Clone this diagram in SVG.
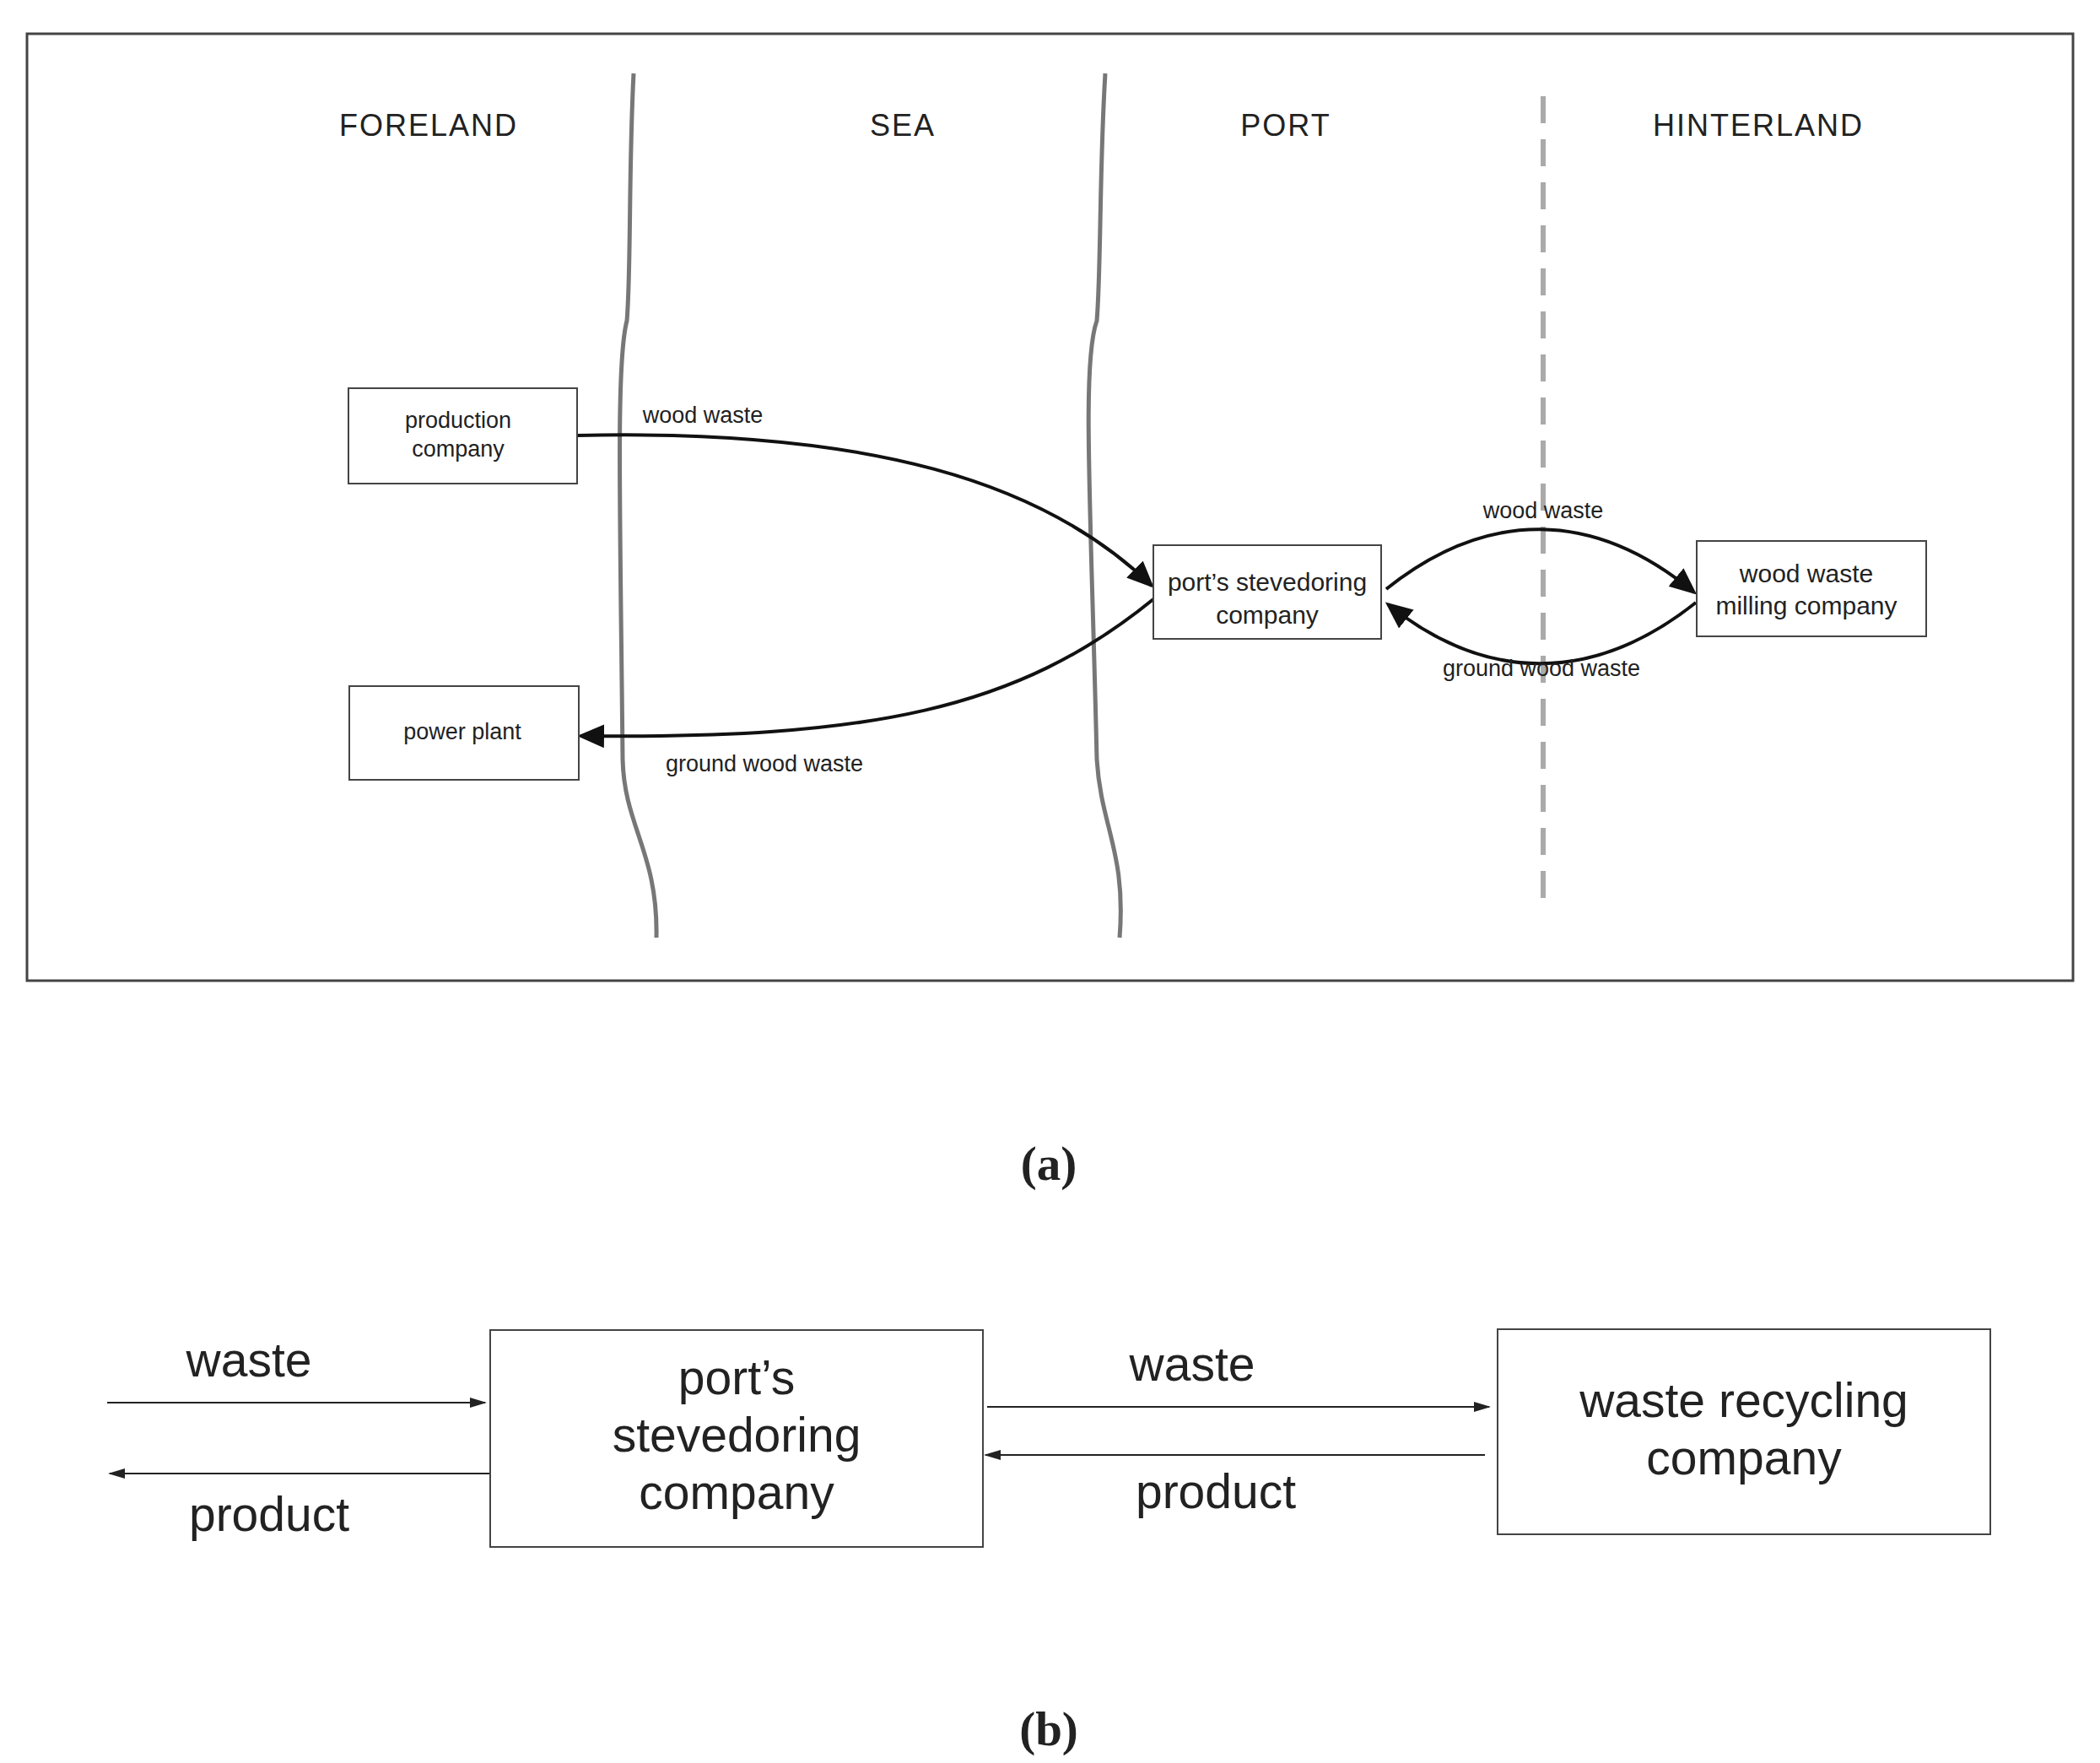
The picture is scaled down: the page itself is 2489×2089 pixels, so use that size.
<svg xmlns="http://www.w3.org/2000/svg" width="2489" height="2089" viewBox="0 0 2489 2089">
<style>
text{font-family:"Liberation Sans",Arial,sans-serif;fill:#222;text-anchor:middle;dominant-baseline:central}
.h{font-size:36px;letter-spacing:2px}
.s{font-size:27px}
.b{font-size:57px}
.cap{font-family:"Liberation Serif",serif;font-weight:bold;font-size:57px}
.box{fill:#fff;stroke:#444;stroke-width:2}
.c{fill:none;stroke:#111;stroke-width:4}
.t{fill:none;stroke:#222;stroke-width:2}
</style>
<defs>
<marker id="a" markerWidth="8" markerHeight="8" refX="7" refY="4" orient="auto" markerUnits="strokeWidth"><path d="M0,0.5L8,4L0,7.5z" fill="#111"/></marker>
<marker id="s" markerWidth="10" markerHeight="8" refX="9" refY="4" orient="auto" markerUnits="strokeWidth"><path d="M0,1L10,4L0,7z" fill="#222"/></marker>
</defs>
<rect width="2489" height="2089" fill="#fff"/>
<rect x="32" y="40" width="2425" height="1122" fill="none" stroke="#444" stroke-width="3"/>
<text class="h" x="508" y="148">FORELAND</text>
<text class="h" x="1070" y="148">SEA</text>
<text class="h" x="1524" y="148">PORT</text>
<text class="h" x="2084" y="148">HINTERLAND</text>
<path d="M751,87 C745,200 748,320 743,380 C730,430 735,600 738,900 C740,980 780,1010 778,1111" fill="none" stroke="#777" stroke-width="5"/>
<path d="M1310,87 C1303,200 1305,320 1300,380 C1282,430 1293,600 1300,900 C1305,980 1335,1010 1327,1111" fill="none" stroke="#777" stroke-width="5"/>
<line x1="1829" y1="114" x2="1829" y2="1080" stroke="#aaa" stroke-width="6" stroke-dasharray="32,19"/>
<g id="connectors">
<path class="c" d="M684,516 C1032,508 1238,571 1365,694" marker-end="url(#a)"/>
<path class="c" d="M1367,710 C1206,841 1032,876 688,872" marker-end="url(#a)"/>
<path class="c" d="M1643,698 C1762,603 1889,603 2008,702" marker-end="url(#a)"/>
<path class="c" d="M2010,714 C1889,810 1762,810 1645,716" marker-end="url(#a)"/>
<text class="s" x="833" y="492">wood waste</text>
<text class="s" x="906" y="905">ground wood waste</text>
<text class="s" x="1829" y="605">wood waste</text>
<text class="s" x="1827" y="792">ground wood waste</text>
<path class="t" d="M127,1662H575" marker-end="url(#s)"/>
<path class="t" d="M581,1746H130" marker-end="url(#s)"/>
<path class="t" d="M1170,1667H1765" marker-end="url(#s)"/>
<path class="t" d="M1760,1724H1168" marker-end="url(#s)"/>
<text class="b" x="295" y="1611">waste</text>
<text class="b" x="319" y="1794">product</text>
<text class="b" x="1413" y="1616">waste</text>
<text class="b" x="1441" y="1767">product</text>
</g>
<g id="production"><rect class="box" x="413" y="460" width="271" height="113"/><text class="s" x="543" y="498">production</text><text class="s" x="543" y="532">company</text></g>
<g id="power"><rect class="box" x="414" y="813" width="272" height="111"/><text class="s" x="548" y="867">power plant</text></g>
<g id="port"><rect class="box" x="1367" y="646" width="270" height="111"/><text class="s" x="1502" y="689" style="font-size:30px">port’s stevedoring</text><text class="s" x="1502" y="728" style="font-size:30px">company</text></g>
<g id="milling"><rect class="box" x="2011" y="641" width="272" height="113"/><text class="s" x="2141" y="679" style="font-size:30px">wood waste</text><text class="s" x="2141" y="717" style="font-size:30px">milling company</text></g>
<text class="cap" x="1243" y="1378">(a)</text>
<g id="portb"><rect class="box" x="581" y="1576" width="584" height="257"/><text class="b" x="873" y="1632">port’s</text><text class="b" x="873" y="1700">stevedoring</text><text class="b" x="873" y="1768">company</text></g>
<g id="recycling"><rect class="box" x="1775" y="1575" width="584" height="243"/><text class="b" x="2067" y="1659">waste recycling</text><text class="b" x="2067" y="1727">company</text></g>
<text class="cap" x="1243" y="2048">(b)</text>
</svg>
